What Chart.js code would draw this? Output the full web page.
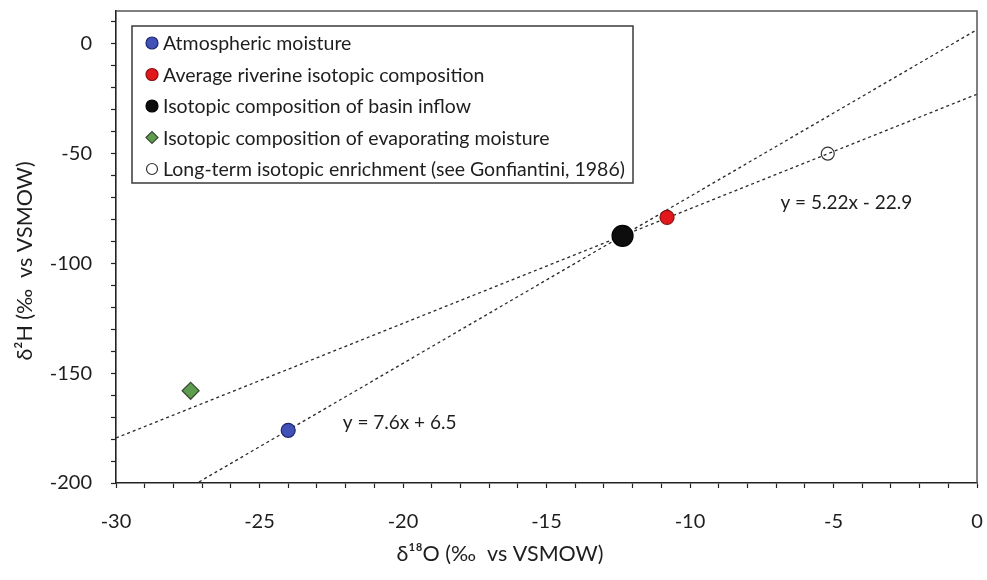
<!doctype html>
<html lang="en">
<head>
  <meta charset="utf-8" />
  <title>Isotopic composition, d18O vs d2H</title>
  <style>
    body { margin: 0; background: #fff; overflow: hidden; }
    .chartBox { width: 987px; height: 580px; }
  </style>
</head>
<body>
<div class="chartBox"><canvas id="isoChart"></canvas></div>
<script src="https://cdn.jsdelivr.net/npm/chart.js@4.4.1/dist/chart.umd.min.js"></script>
<script>
  // one point per series, permil vs VSMOW
  var seriesNames = [
    'Atmospheric moisture',
    'Average riverine isotopic composition',
    'Isotopic composition of basin inflow',
    'Isotopic composition of evaporating moisture',
    'Long-term isotopic enrichment (see Gonfiantini, 1986)'
  ];
  var d18O = [-24.0, -10.8, -12.35, -27.4, -5.2];
  var d2H = [-176, -79, -87.4, -158, -50];

  // the two fitted lines
  var lineSlopes = [7.6, 5.22];
  var lineIntercepts = [6.5, -22.9];
  var lineLabels = ['y = 7.6x + 6.5', 'y = 5.22x - 22.9'];

  var xTicks = [-30, -25, -20, -15, -10, -5, 0];
  var yTicks = [-200, -150, -100, -50, 0];

  var xRange = [-30, 0];
  var yRange = [-200, 15];

  // marker look for each series
  var markers = [
    { style: 'circle',  bg: '#4251b8', border: '#1d2770', r: 7,   lr: 6 },
    { style: 'circle',  bg: '#e3181c', border: '#8a1010', r: 7,   lr: 6 },
    { style: 'circle',  bg: '#0d0d0d', border: '#000000', r: 10.5, lr: 6 },
    { style: 'rectRot', bg: '#5f9d4e', border: '#3a4a36', r: 8.5, lr: 6 },
    { style: 'circle',  bg: 'rgba(255,255,255,0)', border: '#333333', r: 6.5, lr: 5.5 }
  ];

  // where the equation text sits, in axis units
  var eqnAnchors = [[-22.1, -172.7], [-6.85, -72.3]];

  var FONT = 'Lato, "Open Sans", sans-serif';
  var INK = '#1e1e1e';

  var datasets = [];
  lineSlopes.forEach(function (m, i) {
    datasets.push({
      data: xRange.map(function (x) { return { x: x, y: m * x + lineIntercepts[i] }; }),
      showLine: true,
      borderColor: '#2a2a2a',
      borderWidth: 1.3,
      borderDash: [3, 3],
      pointRadius: 0,
      clip: 0,
      order: 2
    });
  });
  seriesNames.forEach(function (name, i) {
    var mk = markers[i];
    datasets.push({
      label: name,
      data: [{ x: d18O[i], y: d2H[i] }],
      pointStyle: mk.style,
      pointRadius: mk.r,
      backgroundColor: mk.bg,
      borderColor: mk.border,
      borderWidth: 1.2,
      order: 1
    });
  });

  var decor = {
    id: 'decor',
    afterDatasetsDraw: function (chart) {
      var ctx = chart.ctx, a = chart.chartArea;
      var xs = chart.scales.x, ys = chart.scales.y;
      ctx.save();

      // frame on top and right
      ctx.strokeStyle = '#555';
      ctx.lineWidth = 1.5;
      ctx.beginPath();
      ctx.moveTo(a.left, a.top);
      ctx.lineTo(a.right, a.top);
      ctx.lineTo(a.right, a.bottom);
      ctx.stroke();

      // equations next to the lines
      ctx.font = '19px ' + FONT;
      ctx.fillStyle = INK;
      ctx.textAlign = 'left';
      ctx.textBaseline = 'middle';
      lineLabels.forEach(function (t, i) {
        ctx.fillText(t, xs.getPixelForValue(eqnAnchors[i][0]), ys.getPixelForValue(eqnAnchors[i][1]));
      });

      // axis titles
      ctx.font = '21.5px ' + FONT;
      ctx.textAlign = 'center';
      ctx.fillText('\u03b4\u00b9\u2078O (\u2030  vs VSMOW)', 500, 554);
      ctx.save();
      ctx.translate(25, 261);
      ctx.rotate(-Math.PI / 2);
      ctx.fillText('\u03b4\u00b2H (\u2030  vs VSMOW)', 0, 0);
      ctx.restore();

      // legend box inside the plot
      var bx = 132, by = 26, bw = 501, bh = 157, row = 31.5;
      ctx.fillStyle = '#fff';
      ctx.fillRect(bx, by, bw, bh);
      ctx.strokeStyle = '#3a3a3a';
      ctx.lineWidth = 1.5;
      ctx.strokeRect(bx, by, bw, bh);
      ctx.font = '19.5px ' + FONT;
      ctx.textAlign = 'left';
      seriesNames.forEach(function (name, i) {
        var cy = by + 17 + i * row;
        var mk = markers[i];
        ctx.fillStyle = mk.bg;
        ctx.strokeStyle = mk.border;
        ctx.lineWidth = 1.2;
        if (mk.bg.indexOf('rgba') === 0) ctx.fillStyle = '#fff';
        Chart.helpers.drawPoint(ctx, { pointStyle: mk.style, rotation: 0, radius: mk.lr, borderWidth: 1.2 }, 152, cy);
        ctx.fillStyle = INK;
        ctx.fillText(name, 163, cy + 1);
      });
      ctx.restore();
    }
  };

  function tickFont() { return { family: FONT, size: 20 }; }

  // fixed axis boxes, and no extra room reserved for edge labels
  function fixBox(size) {
    return function (s) {
      if (s.isHorizontal()) s.height = size; else s.width = size;
      s.paddingLeft = s.paddingRight = s.paddingTop = s.paddingBottom = 0;
    };
  }

  new Chart(document.getElementById('isoChart'), {
    type: 'scatter',
    data: { datasets: datasets },
    plugins: [decor],
    options: {
      responsive: true,
      maintainAspectRatio: false,
      animation: false,
      events: [],
      layout: { autoPadding: false, padding: { top: 11, right: 10, left: 0, bottom: 0 } },
      plugins: { legend: { display: false }, tooltip: { enabled: false } },
      scales: {
        x: {
          type: 'linear',
          min: xRange[0],
          max: xRange[1],
          afterFit: fixBox(97),
          ticks: {
            stepSize: 1,
            autoSkip: false,
            maxRotation: 0,
            includeBounds: false,
            padding: 22,
            color: INK,
            font: tickFont(),
            callback: function (v) { v = Math.round(v); return xTicks.indexOf(v) >= 0 ? String(v) : ''; }
          },
          grid: { drawOnChartArea: false, tickLength: 5, tickColor: '#222', tickWidth: 1.2 },
          border: { color: '#222', width: 1.6 }
        },
        y: {
          type: 'linear',
          min: yRange[0],
          max: yRange[1],
          afterFit: fixBox(116),
          ticks: {
            stepSize: 10,
            autoSkip: false,
            includeBounds: false,
            padding: 19,
            color: INK,
            font: tickFont(),
            callback: function (v) { v = Math.round(v); return yTicks.indexOf(v) >= 0 ? String(v) : ''; }
          },
          grid: { drawOnChartArea: false, tickLength: 5, tickColor: '#222', tickWidth: 1.2 },
          border: { color: '#222', width: 1.6 }
        }
      }
    }
  });
</script>
</body>
</html>
